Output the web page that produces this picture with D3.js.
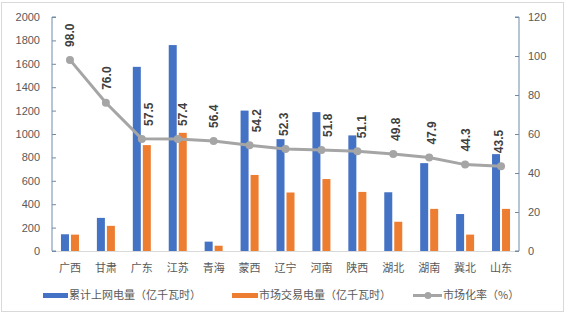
<!DOCTYPE html>
<html><head><meta charset="utf-8">
<script src="https://cdn.jsdelivr.net/npm/d3@7"></script>
<style>body{margin:0;background:#fff}svg{display:block}</style>
</head><body>
<svg id="c" width="566" height="316"></svg>
<script>
const categories = ["广西","甘肃","广东","江苏","青海","蒙西","辽宁","河南","陕西","湖北","湖南","冀北","山东"];
const onGrid = [143,283,1574,1760,80,1200,956,1187,988,502,751,316,828];
const traded = [140,215,905,1010,45,650,500,615,505,250,360,140,360];
const ratio = [98.0,76.0,57.5,57.4,56.4,54.2,52.3,51.8,51.1,49.8,47.9,44.3,43.5];
const leftTicks = [0,200,400,600,800,1000,1200,1400,1600,1800,2000];
const rightTicks = [0,20,40,60,80,100,120];
const seriesNames = ["累计上网电量（亿千瓦时）","市场交易电量（亿千瓦时）","市场化率（%）"];
// label nudges (layout only)
const labelShift = [0,1,7,5,0,7,-2,7,5,3,3,1,-2];

const svg = d3.select("#c");
const font = "'Noto Sans CJK SC','Liberation Sans',sans-serif";
svg.append("rect").attr("x",1.5).attr("y",2.5).attr("width",562).attr("height",309)
  .attr("fill","#fff").attr("stroke","#D9D9D9");

const L=52, R=519, T=17, B=251;
const x = d3.scaleBand().domain(categories).range([L,R]);
const yL = d3.scaleLinear().domain([0,2000]).range([B,T]);
const yR = d3.scaleLinear().domain([0,120]).range([B,T]);
const cx = i => x(categories[i])+x.bandwidth()/2;

svg.append("line").attr("x1",L).attr("x2",R).attr("y1",B+0.5).attr("y2",B+0.5).attr("stroke","#D9D9D9");

const bw=8, gap=2;
const g = svg.append("g");
g.selectAll(".b1").data(categories).join("rect")
  .attr("x",(d,i)=>cx(i)-bw-gap/2).attr("width",bw)
  .attr("y",(d,i)=>yL(onGrid[i])).attr("height",(d,i)=>B-yL(onGrid[i])).attr("fill","#4472C4");
g.selectAll(".b2").data(categories).join("rect")
  .attr("x",(d,i)=>cx(i)+gap/2).attr("width",bw)
  .attr("y",(d,i)=>yL(traded[i])).attr("height",(d,i)=>B-yL(traded[i])).attr("fill","#ED7D31");

const line = d3.line().x((d,i)=>cx(i)).y(d=>yR(d));
svg.append("path").attr("d",line(ratio)).attr("fill","none").attr("stroke","#A5A5A5").attr("stroke-width",3);
svg.selectAll(".pt").data(ratio).join("circle")
  .attr("cx",(d,i)=>cx(i)).attr("cy",d=>yR(d)).attr("r",4).attr("fill","#A5A5A5");
svg.selectAll(".lbl").data(ratio).join("text")
  .attr("transform",(d,i)=>`translate(${cx(i)+4+labelShift[i]},${yR(d)-13}) rotate(-90)`)
  .attr("font-family","'Liberation Sans',Arial,sans-serif").attr("font-size",12).attr("font-weight","bold")
  .attr("fill","#404040").text(d=>d.toFixed(1));

const axL = svg.append("g").attr("transform",`translate(${L},0)`)
  .call(d3.axisRight(yL).tickValues(leftTicks).tickSize(4).tickFormat(d3.format("d")));
axL.selectAll("text").attr("x",-12).attr("text-anchor","end");
const axR = svg.append("g").attr("transform",`translate(${R},0)`)
  .call(d3.axisLeft(yR).tickValues(rightTicks).tickSize(4).tickFormat(d3.format("d")));
axR.selectAll("text").attr("x",9).attr("text-anchor","start");
[axL,axR].forEach(a=>{
  a.select(".domain").attr("stroke","#6F8BA8");
  a.selectAll(".tick line").attr("stroke","#6F8BA8");
  a.selectAll("text").attr("fill","#595959").attr("font-size",11).attr("font-family","'Liberation Sans',Arial,sans-serif");
});
axL.select(".domain").attr("d",`M4,${T}H0V${B}H4`);
axR.select(".domain").attr("d",`M-4,${T}H0V${B}H-4`);

svg.selectAll(".xl").data(categories).join("text")
  .attr("x",(d,i)=>cx(i)).attr("y",272).attr("text-anchor","middle")
  .attr("font-family",font).attr("font-size",11).attr("fill","#595959").text(d=>d);

const lg = svg.append("g").attr("font-family",font).attr("font-size",11).attr("fill","#595959");
lg.append("rect").attr("x",43).attr("y",293).attr("width",25).attr("height",5).attr("fill","#4472C4");
lg.append("text").attr("x",69).attr("y",299).text(seriesNames[0]);
lg.append("rect").attr("x",232).attr("y",293).attr("width",26).attr("height",5).attr("fill","#ED7D31");
lg.append("text").attr("x",259).attr("y",299).text(seriesNames[1]);
lg.append("line").attr("x1",413).attr("x2",442).attr("y1",295.5).attr("y2",295.5).attr("stroke","#A5A5A5").attr("stroke-width",3);
lg.append("circle").attr("cx",428).attr("cy",295.5).attr("r",3.5).attr("fill","#A5A5A5");
lg.append("text").attr("x",443).attr("y",299).text(seriesNames[2]);
</script>
</body></html>
